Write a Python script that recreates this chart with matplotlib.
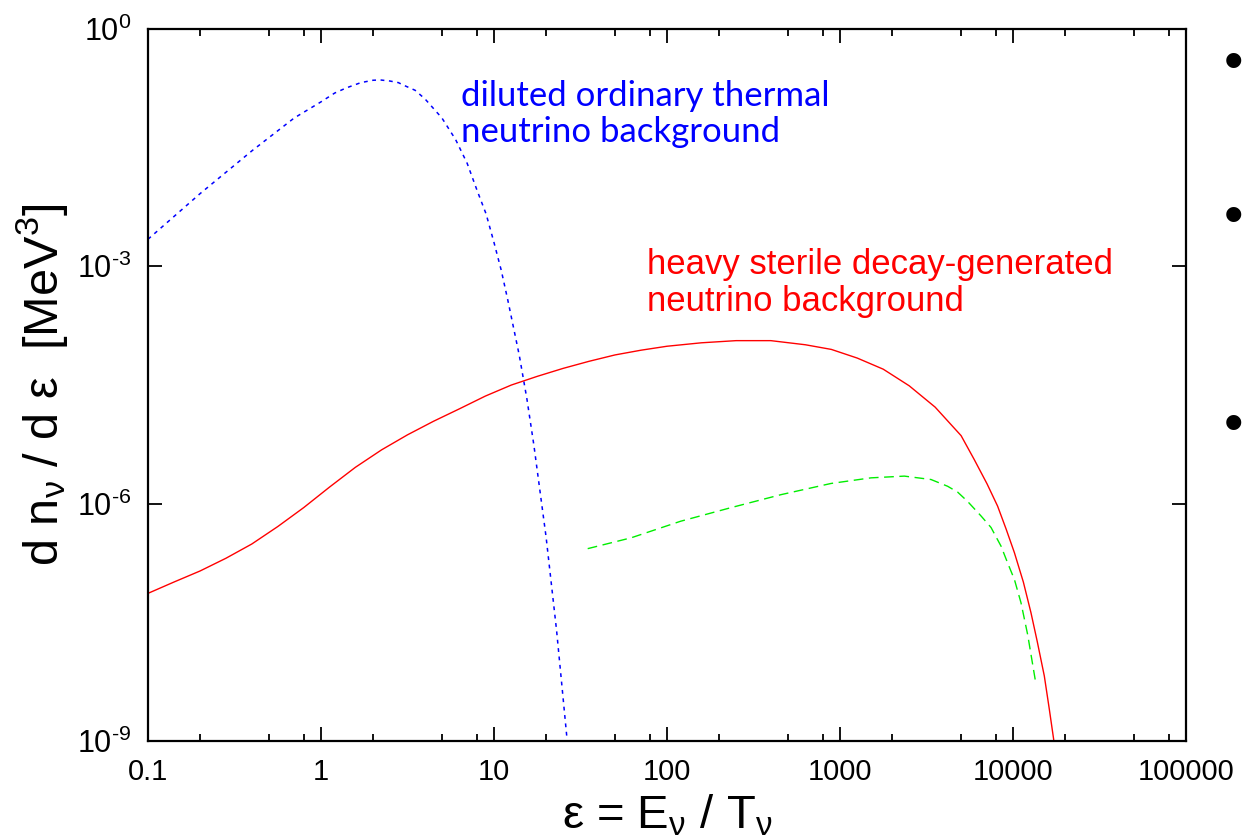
import numpy as np
import matplotlib.pyplot as plt
from matplotlib.ticker import FixedLocator, NullFormatter

plt.rcParams['font.family'] = ['Liberation Sans', 'DejaVu Sans']
plt.rcParams['mathtext.fontset'] = 'custom'
plt.rcParams['mathtext.rm'] = 'Liberation Sans'
plt.rcParams['mathtext.it'] = 'Liberation Sans'
plt.rcParams['mathtext.default'] = 'regular'

# diluted ordinary thermal neutrino background (blue, dotted)
eps_thermal = [0.1, 0.2, 0.4, 0.7, 1.0, 1.2, 1.4, 1.7, 2.0, 2.2, 2.5, 2.8, 3.0,
               3.5, 4.0, 5.0, 6.0, 7.0, 8.0, 9.0, 10, 11, 12, 14, 15.5, 17, 20,
               23, 26.5]
dn_thermal = [2.2e-3, 8.3e-3, 2.9e-2, 7.5e-2, 0.12, 0.155, 0.18, 0.21, 0.225,
              0.227, 0.22, 0.21, 0.195, 0.168, 0.13, 0.075, 0.04, 0.02, 0.009,
              4.6e-3, 2.0e-3, 9.0e-4, 3.8e-4, 7.5e-5, 2.1e-5, 5.5e-6, 3.8e-7,
              2.5e-8, 1.0e-9]

# heavy sterile decay-generated background (red, solid)
eps_decay = [0.1, 0.141, 0.2, 0.282, 0.398, 0.562, 0.794, 1.12, 1.58, 2.24,
             3.16, 4.47, 6.31, 8.91, 12.6, 17.8, 25.1, 35.5, 50.1, 70.8, 100,
             158, 251, 398, 631, 891, 1259, 1778, 2512, 3548, 5012, 5970, 7079,
             8147, 9120, 10190, 11480, 12700, 13800, 15170, 16220, 17180]
dn_decay = [7.35e-8, 1.02e-7, 1.41e-7, 2.04e-7, 3.09e-7, 5.13e-7, 8.91e-7,
            1.62e-6, 2.88e-6, 4.79e-6, 7.41e-6, 1.10e-5, 1.58e-5, 2.29e-5,
            3.16e-5, 4.07e-5, 5.13e-5, 6.31e-5, 7.59e-5, 8.71e-5, 9.77e-5,
            1.08e-4, 1.15e-4, 1.15e-4, 1.02e-4, 8.91e-5, 6.92e-5, 5.01e-5,
            3.09e-5, 1.66e-5, 7.24e-6, 3.61e-6, 1.78e-6, 9.31e-7, 4.79e-7,
            2.40e-7, 1.02e-7, 4.19e-8, 1.82e-8, 6.64e-9, 2.51e-9, 1.05e-9]

# green dashed component
eps_green = [34.8, 62, 120, 234, 456, 887, 1510, 2355, 3357, 4188, 4786, 5458,
             6531, 7464, 8531, 9311, 10190, 11120, 12160, 13580]
dn_green = [2.7e-7, 3.7e-7, 6.0e-7, 8.9e-7, 1.3e-6, 1.8e-6, 2.12e-6, 2.23e-6,
            2.02e-6, 1.66e-6, 1.40e-6, 1.07e-6, 7.0e-7, 5.0e-7, 2.9e-7,
            1.78e-7, 1.1e-7, 5.6e-8, 2.2e-8, 5.2e-9]

xtick_vals = [0.1, 1, 10, 100, 1000, 10000, 100000]
xtick_labels = ['0.1', '1', '10', '100', '1000', '10000', '100000']
ytick_vals = [1e-9, 1e-6, 1e-3, 1e0]
ytick_labels = [r'$10^{\text{-9}}$', r'$10^{\text{-6}}$', r'$10^{\text{-3}}$', r'$10^{\text{0}}$']

W, H = 1244, 839
fig = plt.figure(figsize=(W / 100, H / 100), dpi=100)
ax = fig.add_axes([148 / W, 1 - 741 / H, 1038 / W, 712 / H])

ax.plot(eps_thermal, dn_thermal, color='#0000ff', lw=1.1, linestyle=(0, (2.5, 3)))
ax.plot(eps_decay, dn_decay, color='#ff0000', lw=1.0)
ax.plot(eps_green, dn_green, color='#00ee00', lw=1.0, linestyle=(0, (7, 4)))

ax.set_xscale('log')
ax.set_yscale('log')
ax.set_xlim(0.1, 1e5)
ax.set_ylim(1e-9, 1)

ax.xaxis.set_major_locator(FixedLocator(xtick_vals))
ax.set_xticklabels(xtick_labels)
minors = [m * 10.0 ** d for d in range(-1, 5) for m in (2, 5, 8)]
ax.xaxis.set_minor_locator(FixedLocator(minors))
ax.xaxis.set_minor_formatter(NullFormatter())
ax.yaxis.set_major_locator(FixedLocator(ytick_vals))
ax.set_yticklabels(ytick_labels)
ax.yaxis.set_minor_locator(FixedLocator([]))

ax.tick_params(which='both', direction='in', top=True, right=True, width=1.3)
ax.tick_params(which='major', length=10, labelsize=21, pad=12)
ax.tick_params(axis='y', which='major', labelsize=22)
ax.tick_params(which='minor', length=5)
for s in ax.spines.values():
    s.set_linewidth(1.6)

ax.set_xlabel('ε = E$_{ν}$ / T$_{ν}$', fontsize=34, labelpad=5)
ax.set_ylabel('d n$_{ν}$ / d ε  [MeV$^{3}$]', fontsize=35, labelpad=5)

fig.text(461 / W, 1 - 142 / H, 'diluted ordinary thermal\nneutrino background',
         color='#0000ff', fontsize=25, family='Lato', va='baseline',
         linespacing=1.15)
fig.text(647 / W, 1 - 311 / H, 'heavy sterile decay-generated\nneutrino background',
         color='#ff0000', fontsize=25, va='baseline', linespacing=1.15)

# slide bullets at the right edge
for yb in (65, 219, 427):
    fig.text(1243 / W, 1 - yb / H, '•', fontsize=40, va='center', ha='right')

fig.savefig('out.png', dpi=100)
